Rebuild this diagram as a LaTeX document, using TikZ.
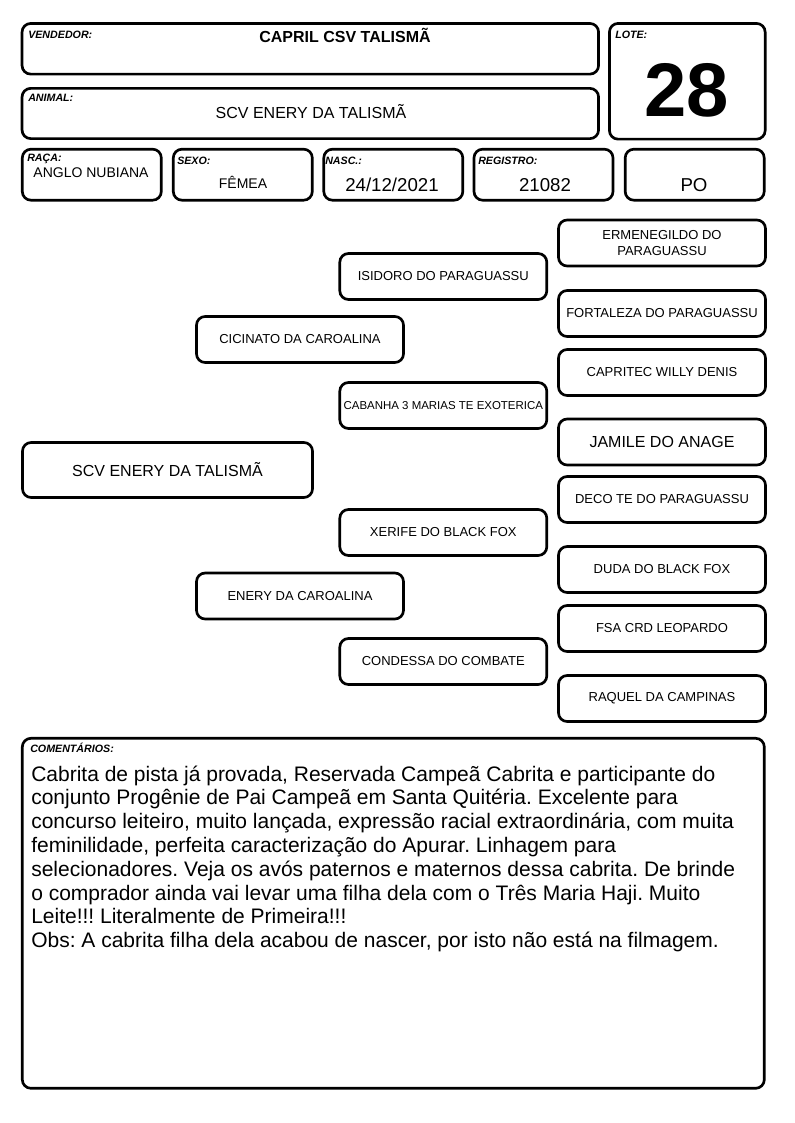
\documentclass[tikz,border=0pt]{standalone}
\usepackage{fontspec}
\setmainfont{Liberation Sans}
\usetikzlibrary{positioning}
\frenchspacing

\begin{document}
\begin{tikzpicture}[
    x=0.75pt, y=-0.75pt,
    box/.style={draw, line width=2pt, rounded corners=6.5pt, inner sep=0pt, align=center},
    field/.style={box, minimum width=104.25pt, minimum height=38.25pt},
    ped/.style={box, minimum width=155.25pt, minimum height=34.5pt, font=\fontsize{9.75}{12}\selectfont},
    lbl/.style={anchor=base west, inner sep=0pt, font=\fontsize{8}{9}\selectfont\bfseries\itshape},
    val/.style={anchor=base, inner sep=0pt, font=\fontsize{10.5}{12}\selectfont},
    bigval/.style={val, font=\fontsize{14}{16}\selectfont}
]
\useasboundingbox (0,0) rectangle (794,1123);

\node[box, minimum width=432.4pt, minimum height=38pt] (vendedor) at (310.3,48.8) {};
\node[box, minimum width=432.4pt, minimum height=37.7pt] (animal) at (310.3,113.5) {};
\node[box, minimum width=116.8pt, minimum height=86.8pt] (lote) at (687.3,81.3) {};
\node[field] (raca) at (91.8,174.7) {};
\node[field] (sexo) at (242.8,174.7) {};
\node[field] (nasc) at (393.3,174.7) {};
\node[field] (registro) at (543.5,174.7) {};
\node[field] (po) at (694.7,174.7) {};

\node[lbl] (lblvend) at (28,39) {VENDEDOR:};
\node[val, font=\fontsize{12}{14}\selectfont\bfseries] (vendtxt) at (345,43) {CAPRIL CSV TALISMÃ};
\node[lbl] (lblanimal) at (28,102) {ANIMAL:};
\node[val, font=\fontsize{12}{14}\selectfont] (animaltxt) at (311,119) {SCV ENERY DA TALISMÃ};
\node[lbl] (lbllote) at (615,39) {LOTE:};
\node[val, font=\fontsize{57}{60}\selectfont\bfseries] (lotetxt) at (687,117) {28};
\node[lbl] (lblraca) at (27,162) {RAÇA:};
\node[val] (racatxt) at (91,178) {ANGLO NUBIANA};
\node[lbl] (lblsexo) at (177,165) {SEXO:};
\node[val] (sexotxt) at (243,189) {FÊMEA};
\node[lbl] (lblnasc) at (325,165) {NASC.:};
\node[bigval] (nasctxt) at (392,192) {24/12/2021};
\node[lbl] (lblreg) at (478,165) {REGISTRO:};
\node[bigval] (regtxt) at (545,192) {21082};
\node[bigval] (potxt) at (694,192) {PO};

\node[ped, minimum width=217.5pt, minimum height=41.25pt, font=\fontsize{12}{14}\selectfont] (scv) at (167.5,470) {SCV ENERY DA TALISMÃ};

\node[ped] (p) at (300,339.5) {CICINATO DA CAROALINA};
\node[ped] (m) at (300,596) {ENERY DA CAROALINA};

\node[ped] (pp) at (443.3,276.5) {ISIDORO DO PARAGUASSU};
\node[ped, font=\fontsize{8.6}{10}\selectfont] (pm) at (443.3,405.5) {CABANHA 3 MARIAS TE EXOTERICA};
\node[ped] (mp) at (443.3,532.5) {XERIFE DO BLACK FOX};
\node[ped] (mm) at (443.3,661.5) {CONDESSA DO COMBATE};

\node[ped] (ppp) at (662,243) {ERMENEGILDO DO\\PARAGUASSU};
\node[ped] (ppm) at (662,313.5) {FORTALEZA DO PARAGUASSU};
\node[ped] (pmp) at (662,372.5) {CAPRITEC WILLY DENIS};
\node[ped, font=\fontsize{12}{14}\selectfont] (pmm) at (662,442) {JAMILE DO ANAGE};
\node[ped] (mpp) at (662,499.5) {DECO TE DO PARAGUASSU};
\node[ped] (mpm) at (662,569.5) {DUDA DO BLACK FOX};
\node[ped] (mmp) at (662,628.5) {FSA CRD LEOPARDO};
\node[ped] (mmm) at (662,698.5) {RAQUEL DA CAMPINAS};

\node[box, minimum width=556.5pt, minimum height=262.5pt] (coment) at (393.3,913.3) {};
\node[lbl] (lblcoment) at (30,752) {COMENTÁRIOS:};
\node[anchor=base west, inner sep=0pt] (comenttxt) at (31,781) {\parbox[t]{560pt}{\fontsize{15.75}{17.85}\selectfont\raggedright
Cabrita de pista já provada, Reservada Campeã Cabrita e participante do\\
conjunto Progênie de Pai Campeã em Santa Quitéria. Excelente para\\
concurso leiteiro, muito lançada, expressão racial extraordinária, com muita\\
feminilidade, perfeita caracterização do Apurar. Linhagem para\\
selecionadores. Veja os avós paternos e maternos dessa cabrita. De brinde\\
o comprador ainda vai levar uma filha dela com o Três Maria Haji. Muito\\
Leite!!! Literalmente de Primeira!!!\\
Obs: A cabrita filha dela acabou de nascer, por isto não está na filmagem.}};
\end{tikzpicture}
\end{document}
